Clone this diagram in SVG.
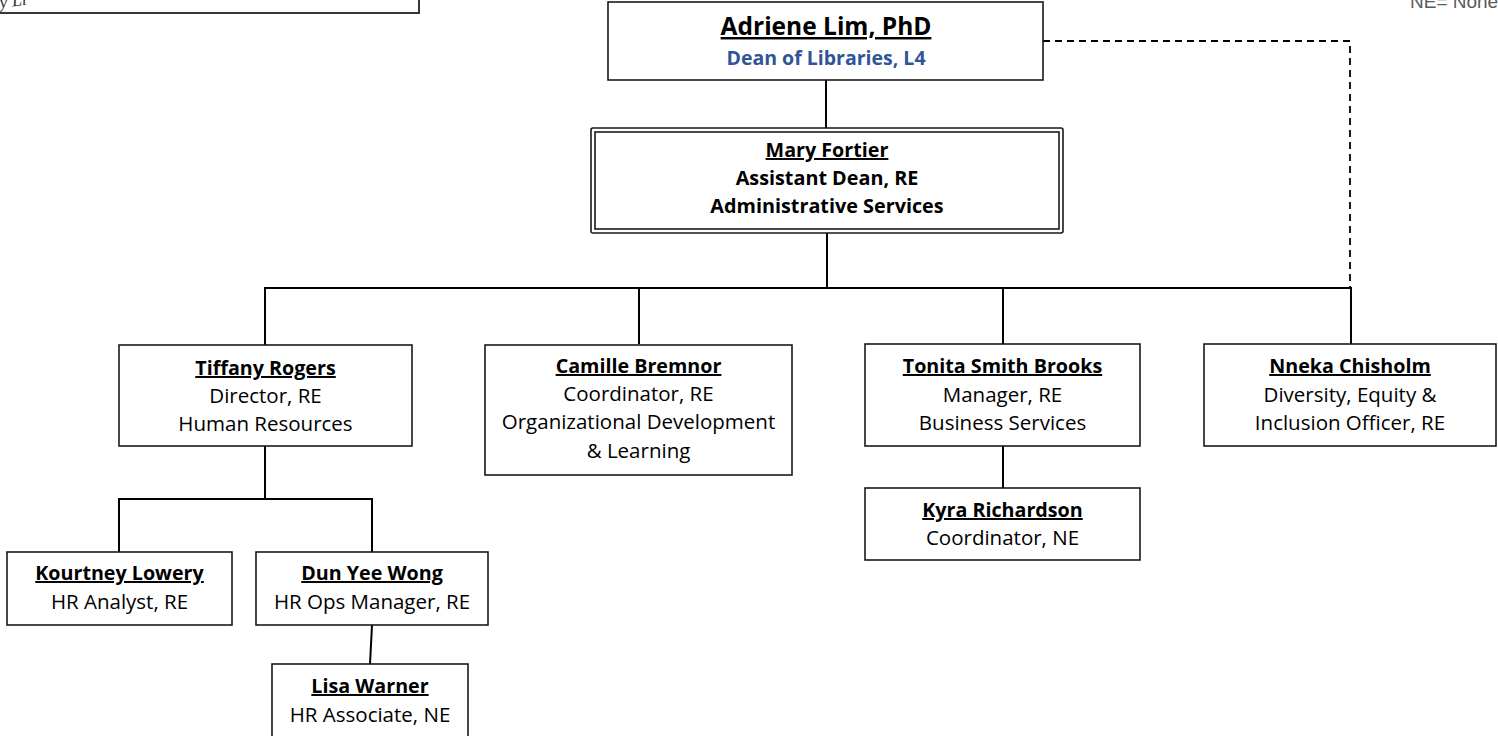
<svg xmlns="http://www.w3.org/2000/svg" width="1498" height="736" viewBox="0 0 1498 736">
<style>
.box{fill:#fff;stroke:#1a1a1a;stroke-width:1.6}
.con{fill:none;stroke:#000;stroke-width:2}
.dash{fill:none;stroke:#000;stroke-width:1.8;stroke-dasharray:7,5}
text{font-family:"Open Sans","Noto Sans",sans-serif;text-anchor:middle;fill:#000}
.n{font-weight:bold;font-size:19.7px;text-decoration:underline}
.t{font-size:20.5px}
.tb{font-size:19.8px;font-weight:bold}
</style>
<rect width="1498" height="736" fill="#fff"/>
<g id="legend-box">
<rect x="-10" y="-60" width="429" height="73" fill="#fff" stroke="#222" stroke-width="1.8"/>
<text x="0" y="8" transform="rotate(-7 0 8)" style="font-family:'Liberation Serif',serif;font-style:italic;font-size:18px;text-anchor:start;fill:#333">y Li</text>
</g>
<text x="1410" y="8" style="font-family:'Liberation Sans',Arial,sans-serif;font-size:19px;text-anchor:start;fill:#5a5a5a">NE= Nonexempt</text>
<g id="connectors">
<line class="con" x1="826" y1="80" x2="826" y2="128"/>
<line class="con" x1="827" y1="233" x2="827" y2="288"/>
<polyline class="con" points="265,345 265,288 1351,288 1351,344"/>
<line class="con" x1="639" y1="288" x2="639" y2="344"/>
<line class="con" x1="1003" y1="288" x2="1003" y2="344"/>
<polyline class="dash" points="1043,41 1350,41 1350,288"/>
<line class="con" x1="265" y1="446" x2="265" y2="499"/>
<polyline class="con" points="119,552 119,499 372,499 372,552"/>
<line class="con" x1="372" y1="625" x2="370" y2="664"/>
<line class="con" x1="1003" y1="446" x2="1003" y2="488"/>
</g>
<g id="adriene">
<rect class="box" x="608" y="2" width="435" height="78"/>
<text x="826" y="35" style="font-weight:bold;font-size:24.5px;text-decoration:underline">Adriene Lim, PhD</text>
<text x="826" y="65" style="font-weight:bold;font-size:19.5px;fill:#2F5597">Dean of Libraries, L4</text>
</g>
<g id="mary">
<rect x="591" y="128" width="472" height="105" rx="2" fill="#fff" stroke="#1a1a1a" stroke-width="1.6"/>
<rect x="595" y="132" width="464" height="97" fill="none" stroke="#1a1a1a" stroke-width="1.6"/>
<text class="n" x="827" y="157">Mary Fortier</text>
<text class="tb" x="827" y="185">Assistant Dean, RE</text>
<text class="tb" x="827" y="213">Administrative Services</text>
</g>
<g id="tiffany">
<rect class="box" x="119" y="345" width="293" height="101"/>
<text class="n" x="265.5" y="375">Tiffany Rogers</text>
<text class="t" x="265.5" y="403">Director, RE</text>
<text class="t" x="265.5" y="431">Human Resources</text>
</g>
<g id="camille">
<rect class="box" x="485" y="345" width="307" height="130"/>
<text class="n" x="638.5" y="373">Camille Bremnor</text>
<text class="t" x="638.5" y="401">Coordinator, RE</text>
<text class="t" x="638.5" y="429">Organizational Development</text>
<text class="t" x="638.5" y="458">&amp; Learning</text>
</g>
<g id="tonita">
<rect class="box" x="865" y="344" width="275" height="102"/>
<text class="n" x="1002.5" y="373">Tonita Smith Brooks</text>
<text class="t" x="1002.5" y="402">Manager, RE</text>
<text class="t" x="1002.5" y="430">Business Services</text>
</g>
<g id="nneka">
<rect class="box" x="1204" y="344" width="292" height="102"/>
<text class="n" x="1350" y="373">Nneka Chisholm</text>
<text class="t" x="1350" y="402">Diversity, Equity &amp;</text>
<text class="t" x="1350" y="430">Inclusion Officer, RE</text>
</g>
<g id="kyra">
<rect class="box" x="865" y="488" width="275" height="72"/>
<text class="n" x="1002.5" y="517">Kyra Richardson</text>
<text class="t" x="1002.5" y="545">Coordinator, NE</text>
</g>
<g id="kourtney">
<rect class="box" x="7" y="552" width="225" height="73"/>
<text class="n" x="119.5" y="580">Kourtney Lowery</text>
<text class="t" x="119.5" y="609">HR Analyst, RE</text>
</g>
<g id="dunyee">
<rect class="box" x="256" y="552" width="232" height="73"/>
<text class="n" x="372" y="580">Dun Yee Wong</text>
<text class="t" x="372" y="609">HR Ops Manager, RE</text>
</g>
<g id="lisa">
<rect class="box" x="272" y="664" width="196" height="80"/>
<text class="n" x="370" y="693">Lisa Warner</text>
<text class="t" x="370" y="722">HR Associate, NE</text>
</g>
</svg>
